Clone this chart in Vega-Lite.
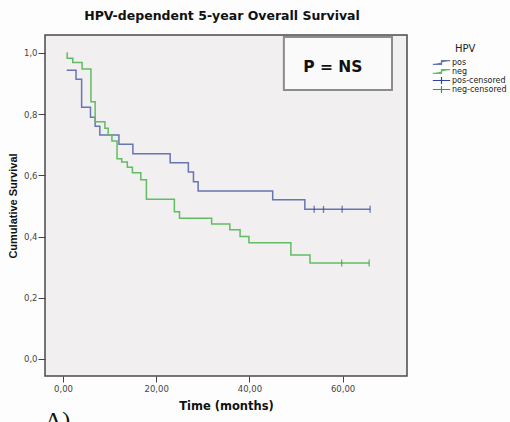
{
  "$schema": "https://vega.github.io/schema/vega-lite/v6.json",
  "autosize": "none",
  "width": 362,
  "height": 341,
  "padding": {"left": 45, "top": 35, "right": 103, "bottom": 46},
  "background": "#fdfdfd",
  "title": {"text": "HPV-dependent 5-year Overall Survival", "font": "DejaVu Sans", "fontSize": 12.5, "fontWeight": "bold", "color": "#111111", "anchor": "middle", "offset": 13, "dx": -4},
  "config": {
    "view": {"fill": "#f1efef", "stroke": "#4a4a4a", "strokeWidth": 1.5},
    "axis": {"labelFont": "DejaVu Sans", "labelFontSize": 8.5, "labelColor": "#444444", "tickColor": "#444444", "domain": false, "grid": false, "titleColor": "#111111"}
  },
  "datasets": {
    "curves": [
      {"time": 0.8, "surv": 0.944, "group": "pos"},
      {"time": 2.8, "surv": 0.914, "group": "pos"},
      {"time": 4.0, "surv": 0.823, "group": "pos"},
      {"time": 5.9, "surv": 0.790, "group": "pos"},
      {"time": 6.9, "surv": 0.761, "group": "pos"},
      {"time": 7.9, "surv": 0.732, "group": "pos"},
      {"time": 12.0, "surv": 0.702, "group": "pos"},
      {"time": 15.0, "surv": 0.671, "group": "pos"},
      {"time": 23.0, "surv": 0.641, "group": "pos"},
      {"time": 26.9, "surv": 0.611, "group": "pos"},
      {"time": 28.0, "surv": 0.579, "group": "pos"},
      {"time": 29.0, "surv": 0.549, "group": "pos"},
      {"time": 45.0, "surv": 0.520, "group": "pos"},
      {"time": 51.9, "surv": 0.489, "group": "pos"},
      {"time": 65.9, "surv": 0.489, "group": "pos"},
      {"time": 0.8, "surv": 1.0, "group": "neg"},
      {"time": 0.9, "surv": 0.983, "group": "neg"},
      {"time": 2.1, "surv": 0.969, "group": "neg"},
      {"time": 4.1, "surv": 0.948, "group": "neg"},
      {"time": 6.0, "surv": 0.841, "group": "neg"},
      {"time": 6.9, "surv": 0.775, "group": "neg"},
      {"time": 9.0, "surv": 0.754, "group": "neg"},
      {"time": 9.7, "surv": 0.732, "group": "neg"},
      {"time": 10.5, "surv": 0.712, "group": "neg"},
      {"time": 11.6, "surv": 0.654, "group": "neg"},
      {"time": 12.6, "surv": 0.644, "group": "neg"},
      {"time": 13.8, "surv": 0.627, "group": "neg"},
      {"time": 14.9, "surv": 0.609, "group": "neg"},
      {"time": 16.7, "surv": 0.586, "group": "neg"},
      {"time": 17.9, "surv": 0.522, "group": "neg"},
      {"time": 23.9, "surv": 0.481, "group": "neg"},
      {"time": 25.0, "surv": 0.460, "group": "neg"},
      {"time": 31.9, "surv": 0.441, "group": "neg"},
      {"time": 35.8, "surv": 0.422, "group": "neg"},
      {"time": 38.0, "surv": 0.400, "group": "neg"},
      {"time": 39.9, "surv": 0.380, "group": "neg"},
      {"time": 48.9, "surv": 0.340, "group": "neg"},
      {"time": 53.0, "surv": 0.314, "group": "neg"},
      {"time": 65.7, "surv": 0.314, "group": "neg"}
    ],
    "censor": [
      {"time": 53.9, "surv": 0.489, "group": "pos-censored"},
      {"time": 55.9, "surv": 0.489, "group": "pos-censored"},
      {"time": 59.9, "surv": 0.489, "group": "pos-censored"},
      {"time": 65.9, "surv": 0.489, "group": "pos-censored"},
      {"time": 59.8, "surv": 0.314, "group": "neg-censored"},
      {"time": 65.7, "surv": 0.314, "group": "neg-censored"}
    ],
    "box": [{"x1": 47.4, "x2": 70.6, "y1": 1.052, "y2": 0.879}],
    "notes": [{"time": 57.9, "surv": 0.954, "text": "P = NS"}],
    "panel": [{"time": -3.9, "surv": -0.165, "text": "A)"}]
  },
  "encoding": {
    "x": {"field": "time", "type": "quantitative", "scale": {"domain": [-3.86, 73.82], "nice": false, "zero": false},
      "axis": {"values": [0, 20, 40, 60], "labelExpr": "replace(format(datum.value, '.2f'), '.', ',')", "tickSize": 6, "labelPadding": 2, "title": "Time (months)", "titleFont": "DejaVu Sans", "titleFontSize": 11.5, "titleFontWeight": "bold", "titlePadding": 8}},
    "y": {"field": "surv", "type": "quantitative", "scale": {"domain": [-0.0556, 1.0588], "nice": false, "zero": false},
      "axis": {"values": [0, 0.2, 0.4, 0.6, 0.8, 1.0], "labelExpr": "replace(format(datum.value, '.1f'), '.', ',')", "tickSize": 7, "labelPadding": 1, "title": "Cumulative Survival", "titleFont": "Liberation Sans", "titleFontSize": 11, "titleFontWeight": "bold", "titlePadding": 5}}
  },
  "layer": [
    {
      "data": {"name": "box"},
      "mark": {"type": "rect", "fill": "#fafafa", "stroke": "#8c8c8c", "strokeWidth": 2},
      "encoding": {
        "x": {"field": "x1", "type": "quantitative"},
        "x2": {"field": "x2"},
        "y": {"field": "y1", "type": "quantitative"},
        "y2": {"field": "y2"}
      }
    },
    {
      "data": {"name": "notes"},
      "mark": {"type": "text", "font": "DejaVu Sans", "fontSize": 15.5, "fontWeight": "bold", "color": "#111111", "align": "center", "baseline": "middle"},
      "encoding": {"text": {"field": "text"}}
    },
    {
      "data": {"name": "curves"},
      "mark": {"type": "line", "interpolate": "step-after", "strokeWidth": 1.5},
      "encoding": {
        "color": {"field": "group", "type": "nominal",
          "scale": {"domain": ["pos", "neg", "pos-censored", "neg-censored"], "range": ["#6676b4", "#62bd62", "#34449a", "#2f9c3e"]},
          "legend": {"title": "HPV", "orient": "none", "legendX": 387, "legendY": 9, "padding": 0,
            "titleFont": "DejaVu Sans", "titleFontSize": 10, "titleFontWeight": "normal", "titleColor": "#222222", "titleAnchor": "start", "titlePadding": 5,
            "labelFont": "DejaVu Sans", "labelFontSize": 8, "labelColor": "#222222", "labelOffset": 1, "labelLimit": 200,
            "rowPadding": 0, "clipHeight": 7, "symbolSize": 300, "symbolStrokeWidth": 1.2, "symbolType": "stroke",
            "encode": {
              "title": {"update": {"dx": {"value": 23}}},
              "symbols": {"update": {"shape": {"signal": "indexof(datum.value, 'censored') >= 0 ? 'M-1,0H1M0,-0.4V0.4' : 'M-1,0.22H0V-0.22H1'"}, "fill": {"value": "transparent"}}}
            }
          }
        }
      }
    },
    {
      "data": {"name": "censor"},
      "mark": {"type": "tick", "orient": "vertical", "size": 7, "thickness": 1.3},
      "encoding": {"color": {"field": "group", "type": "nominal"}}
    },
    {
      "data": {"name": "panel"},
      "mark": {"type": "text", "font": "Liberation Serif", "fontSize": 24, "color": "#111111", "align": "left", "baseline": "top"},
      "encoding": {"text": {"field": "text"}}
    }
  ]
}
